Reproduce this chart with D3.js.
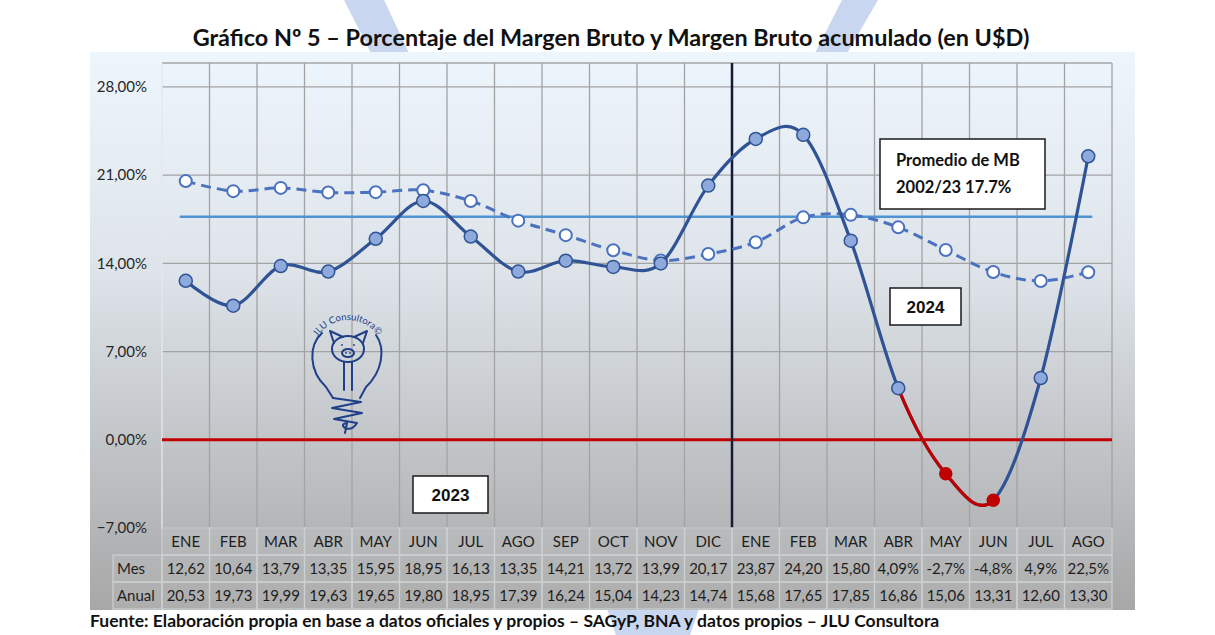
<!DOCTYPE html>
<html>
<head>
<meta charset="utf-8">
<script src="https://cdn.jsdelivr.net/npm/d3@7"></script>
<style>
  body { margin: 0; background: #ffffff; }
  svg { display: block; }
</style>
</head>
<body>
<script>
// ---- data ----
var months = ["ENE","FEB","MAR","ABR","MAY","JUN","JUL","AGO","SEP","OCT","NOV","DIC",
              "ENE","FEB","MAR","ABR","MAY","JUN","JUL","AGO"];
var mes = [12.62,10.64,13.79,13.35,15.95,18.95,16.13,13.35,14.21,13.72,13.99,20.17,
           23.87,24.20,15.80,4.09,-2.7,-4.8,4.9,22.5];
var anual = [20.53,19.73,19.99,19.63,19.65,19.80,18.95,17.39,16.24,15.04,14.23,14.74,
             15.68,17.65,17.85,16.86,15.06,13.31,12.60,13.30];
var mesLabels = ["12,62","10,64","13,79","13,35","15,95","18,95","16,13","13,35","14,21","13,72",
                 "13,99","20,17","23,87","24,20","15,80","4,09%","-2,7%","-4,8%","4,9%","22,5%"];
var anualLabels = ["20,53","19,73","19,99","19,63","19,65","19,80","18,95","17,39","16,24","15,04",
                   "14,23","14,74","15,68","17,65","17,85","16,86","15,06","13,31","12,60","13,30"];
var promedio = 17.7;
var yTicks = [-7, 0, 7, 14, 21, 28];
var negIdx = [16, 17];      // months drawn in red (below zero)
var firstOf2024 = 12;

// ---- sizes ----
var width = 1215, height = 635;
var plot = { left: 162, right: 1112, top: 63, bottom: 528 };
var rowH = 27;
var labelColLeft = 113;

var svg = d3.select("body").append("svg")
            .attr("width", width)
            .attr("height", height);

var defs = svg.append("defs");
var grad = defs.append("linearGradient")
               .attr("id", "bg").attr("x1", 0).attr("y1", 0).attr("x2", 0).attr("y2", 1);
grad.append("stop").attr("offset", "0%").attr("stop-color", "#eef6fd");
grad.append("stop").attr("offset", "40%").attr("stop-color", "#dde3e9");
grad.append("stop").attr("offset", "100%").attr("stop-color", "#a7a7a7");

// faint watermark shapes peeking out behind the chart
var wm = [
  [[344,0],[384,0],[410,55],[372,55]],
  [[842,0],[878,0],[846,55],[814,55]],
  [[606,606],[700,606],[690,635],[616,635]]
];
svg.selectAll(".wm").data(wm).enter().append("path")
   .attr("class", "wm")
   .attr("d", function(d){ return "M" + d.join("L") + "Z"; })
   .attr("fill", "#c9d6f0");

// chart background
svg.append("rect")
   .attr("x", 90).attr("y", 52)
   .attr("width", 1135 - 90).attr("height", plot.bottom + 3 * rowH - 52 + 1)
   .attr("fill", "url(#bg)");

// scales
var x = d3.scaleBand()
          .domain(d3.range(months.length))
          .range([plot.left, plot.right]);
var cx = function(i){ return x(i) + x.bandwidth() / 2; };
var y = d3.scaleLinear()
          .domain([-7, 29.9])
          .range([plot.bottom, plot.top]);

// grid
var grid = svg.append("g");
grid.selectAll(".hg").data(yTicks.concat([y.invert(plot.top)])).enter().append("line")
    .attr("x1", plot.left).attr("x2", plot.right)
    .attr("y1", function(d){ return y(d); }).attr("y2", function(d){ return y(d); })
    .attr("stroke", "#a3a3a3").attr("stroke-width", 1.3);
grid.selectAll(".vg").data(d3.range(months.length + 1)).enter().append("line")
    .attr("x1", function(d){ return plot.left + d * x.bandwidth(); })
    .attr("x2", function(d){ return plot.left + d * x.bandwidth(); })
    .attr("y1", plot.top).attr("y2", plot.bottom)
    .attr("stroke", function(d){ return d === 0 ? "#e4e8ec" : "#a3a3a3"; })
    .attr("stroke-width", 1.3);

// y labels
var fmt = function(v){ return d3.format(".2f")(v).replace(".", ",") + "%"; };
svg.selectAll(".yl").data(yTicks).enter().append("text")
   .attr("x", plot.left - 15).attr("y", function(d){ return y(d); })
   .attr("dy", "0.35em")
   .attr("text-anchor", "end")
   .attr("font-family", "Lato, 'Open Sans', sans-serif")
   .attr("font-size", 15).attr("fill", "#262626")
   .text(fmt);

// logo (JLU Consultora)
var logo = svg.append("g")
              .attr("fill", "none").attr("stroke", "#1f3f88")
              .attr("stroke-width", 2).attr("stroke-linecap", "round").attr("stroke-linejoin", "round");
logo.append("path").attr("d", "M322,333 C308,346 309,371 326,387 L333,398");
logo.append("path").attr("d", "M376,335 C386,349 382,372 366,387 L360,398");
logo.append("path").attr("d", "M333,398 L361,402 L332,408 L362,413 L334,419 L357,423 Q352,431 345,428 Q340,424 347,423 L345,433");
logo.append("path").attr("d", "M334,343 L330,331 L343,337");
logo.append("path").attr("d", "M354,337 L367,331 L363,343");
logo.append("ellipse").attr("cx", 348).attr("cy", 349).attr("rx", 16).attr("ry", 13);
logo.append("ellipse").attr("cx", 348).attr("cy", 353).attr("rx", 6).attr("ry", 4);
logo.append("path").attr("d", "M344,362 L344,390 M352,362 L352,390");
logo.selectAll(".eye").data([[342,345],[354,345],[346,353],[350,353]]).enter().append("circle")
    .attr("cx", function(d){ return d[0]; }).attr("cy", function(d){ return d[1]; })
    .attr("r", 0.9).attr("fill", "#1f3f88").attr("stroke", "none");
defs.append("path").attr("id", "arc")
    .attr("d", d3.arc()({ innerRadius: 0, outerRadius: 0 }) || "")
    .attr("d", "M" + (348 + 36 * Math.cos(212 * Math.PI / 180)) + "," + (356 + 36 * Math.sin(212 * Math.PI / 180)) +
               " A36,36 0 0,1 " + (348 + 36 * Math.cos(340 * Math.PI / 180)) + "," + (356 + 36 * Math.sin(340 * Math.PI / 180)));
svg.append("text")
   .attr("font-family", "Lato, sans-serif").attr("font-size", 9.5).attr("fill", "#1f3f88")
   .append("textPath").attr("href", "#arc").text("JLU Consultora©");

// zero line
svg.append("line")
   .attr("x1", plot.left).attr("x2", plot.right)
   .attr("y1", y(0)).attr("y2", y(0))
   .attr("stroke", "#c00000").attr("stroke-width", 3);

// divider between years
svg.append("line")
   .attr("x1", x(firstOf2024)).attr("x2", x(firstOf2024))
   .attr("y1", plot.top).attr("y2", plot.bottom)
   .attr("stroke", "#141a38").attr("stroke-width", 2.5);

// average line
svg.append("line")
   .attr("x1", cx(0) - 6).attr("x2", cx(months.length - 1) + 4)
   .attr("y1", y(promedio)).attr("y2", y(promedio))
   .attr("stroke", "#4f93d2").attr("stroke-width", 2.5);

var line = d3.line()
             .x(function(d, i){ return cx(i); })
             .y(function(d){ return y(d); })
             .curve(d3.curveCatmullRom.alpha(0));

// anual (dashed)
svg.append("path")
   .attr("d", line(anual))
   .attr("fill", "none").attr("stroke", "#4a72bf").attr("stroke-width", 3)
   .attr("stroke-dasharray", "10,6");
svg.selectAll(".am").data(anual).enter().append("circle")
   .attr("cx", function(d, i){ return cx(i); })
   .attr("cy", function(d){ return y(d); })
   .attr("r", 6).attr("fill", "#ffffff").attr("stroke", "#4a72bf").attr("stroke-width", 2);

// mes (solid)
svg.append("path")
   .attr("d", line(mes))
   .attr("fill", "none").attr("stroke", "#2f5394").attr("stroke-width", 3.2);
defs.append("clipPath").attr("id", "negClip")
    .append("rect")
    .attr("x", cx(negIdx[0] - 1)).attr("y", 0)
    .attr("width", cx(negIdx[negIdx.length - 1]) - cx(negIdx[0] - 1)).attr("height", height);
svg.append("path")
   .attr("d", line(mes))
   .attr("clip-path", "url(#negClip)")
   .attr("fill", "none").attr("stroke", "#c00000").attr("stroke-width", 3.2);
svg.selectAll(".mm").data(mes).enter().append("circle")
   .attr("cx", function(d, i){ return cx(i); })
   .attr("cy", function(d){ return y(d); })
   .attr("r", function(d, i){ return negIdx.indexOf(i) >= 0 ? 6 : 6.5; })
   .attr("fill", function(d, i){ return negIdx.indexOf(i) >= 0 ? "#c00000" : "#8eaadc"; })
   .attr("stroke", function(d, i){ return negIdx.indexOf(i) >= 0 ? "#c00000" : "#2f5394"; })
   .attr("stroke-width", 1.5);

// annotation boxes
var boxes = [
  { x: 880, y: 139, w: 165, h: 70, lines: ["Promedio de MB", "2002/23 17.7%"], font: "Lato, sans-serif", size: 16.5, tx: 896, anchor: "start" },
  { x: 890, y: 288, w: 71, h: 37, lines: ["2024"], font: "'Liberation Sans', Arial, sans-serif", size: 17, tx: 925.5, anchor: "middle" },
  { x: 413, y: 476, w: 75, h: 37, lines: ["2023"], font: "'Liberation Sans', Arial, sans-serif", size: 17, tx: 450.5, anchor: "middle" }
];
var bx = svg.selectAll(".box").data(boxes).enter().append("g");
bx.append("rect")
  .attr("x", function(d){ return d.x; }).attr("y", function(d){ return d.y; })
  .attr("width", function(d){ return d.w; }).attr("height", function(d){ return d.h; })
  .attr("fill", "#ffffff").attr("stroke", "#1a1a1a").attr("stroke-width", 1.5);
bx.each(function(d){
  var g = d3.select(this);
  var step = d.lines.length > 1 ? 27 : 0;
  var y0 = d.y + d.h / 2 - step * (d.lines.length - 1) / 2;
  d.lines.forEach(function(t, k){
    g.append("text")
     .attr("x", d.tx).attr("y", y0 + k * step).attr("dy", "0.36em")
     .attr("text-anchor", d.anchor)
     .attr("font-family", d.font).attr("font-weight", "bold")
     .attr("font-size", d.size).attr("fill", "#111")
     .text(t);
  });
});

// data table
var table = svg.append("g")
               .attr("font-family", "Lato, 'Open Sans', sans-serif")
               .attr("font-size", 15).attr("fill", "#1e1e1e");
var rows = [
  { label: null, values: months },
  { label: "Mes", values: mesLabels },
  { label: "Anual", values: anualLabels }
];
rows.forEach(function(r, k){
  var ry = plot.bottom + k * rowH;
  if (r.label) {
    table.append("rect")
         .attr("x", labelColLeft).attr("y", ry)
         .attr("width", plot.left - labelColLeft).attr("height", rowH)
         .attr("fill", "rgba(255,255,255,0.07)").attr("stroke", "#ccd1d2").attr("stroke-width", 1.2);
    table.append("text")
         .attr("x", labelColLeft + 4).attr("y", ry + rowH / 2).attr("dy", "0.35em")
         .text(r.label);
  }
  table.selectAll(".c" + k).data(r.values).enter().append("rect")
       .attr("x", function(d, i){ return x(i); }).attr("y", ry)
       .attr("width", x.bandwidth()).attr("height", rowH)
       .attr("fill", "rgba(255,255,255,0.07)").attr("stroke", "#ccd1d2").attr("stroke-width", 1.2);
  table.selectAll(".t" + k).data(r.values).enter().append("text")
       .attr("x", function(d, i){ return cx(i); })
       .attr("y", ry + rowH / 2).attr("dy", "0.35em")
       .attr("text-anchor", "middle")
       .text(function(d){ return d; });
});

// fits a text to a target width by adjusting the font size
var fit = function(sel, target){
  var w = sel.node().getComputedTextLength();
  var fs = parseFloat(sel.attr("font-size"));
  sel.attr("font-size", fs * target / w);
};

var title = svg.append("text")
   .attr("x", 611).attr("y", 38).attr("dy", "0.35em")
   .attr("text-anchor", "middle")
   .attr("font-family", "Lato, 'Open Sans', sans-serif").attr("font-weight", "bold")
   .attr("font-size", 21).attr("fill", "#111")
   .text("Gráfico Nº 5 – Porcentaje del Margen Bruto y Margen Bruto acumulado (en U$D)");
fit(title, 837);

var foot = svg.append("text")
   .attr("x", 90).attr("y", 621).attr("dy", "0.35em")
   .attr("font-family", "Lato, 'Open Sans', sans-serif").attr("font-weight", "bold")
   .attr("font-size", 15).attr("fill", "#111")
   .text("Fuente: Elaboración propia en base a datos oficiales y propios – SAGyP, BNA y datos propios – JLU Consultora");
fit(foot, 850);
</script>
</body>
</html>
